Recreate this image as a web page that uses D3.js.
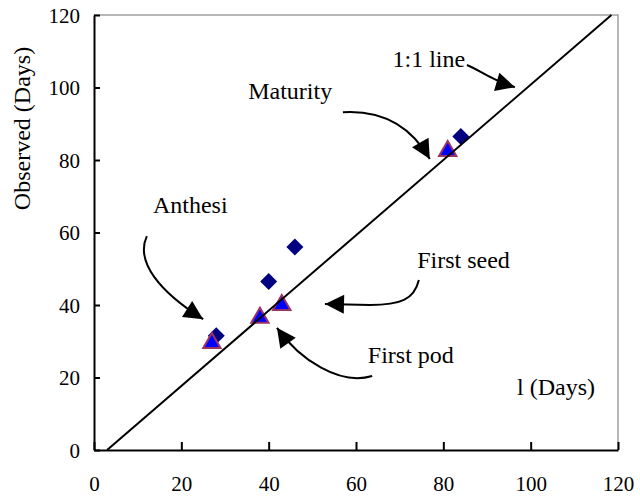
<!DOCTYPE html>
<html>
<head>
<meta charset="utf-8">
<script src="https://cdn.jsdelivr.net/npm/d3@7"></script>
<style>
	body { margin: 0; background: #fff; }
	text { font-family: "Liberation Serif", "Times New Roman", serif; fill: #000; }
</style>
</head>
<body>
<div id="chart"></div>
<script>
const width = 640,
	height = 498;

let margin = { top: 15, left: 94, right: 22, bottom: 48 };

// data
// ---------------------------
const x_ticks = [0, 20, 40, 60, 80, 100, 120];
const y_ticks = [0, 20, 40, 60, 80, 100, 120];

// observed stages (navy diamonds)
const diamond_sim = [28, 40, 46, 84];
const diamond_obs = [31.5, 46.5, 56, 86.5];

// second series (blue triangles)
const triangle_sim = [27, 38, 43, 81];
const triangle_obs = [29.5, 36.5, 40, 82.5];

// 1:1 line end points
const line_sim = [3, 118.5];
const line_obs = [0, 120];

// annotations, in data units
const label_text = ["1:1 line", "Maturity", "Anthesi", "First seed", "First pod"];
const label_x = [85, 35.3, 13.5, 74, 62.7];
const label_y = [105.7, 96.8, 65.4, 50.2, 24];
const label_anchor = ["end", "start", "start", "start", "start"];

const arrows = [
	[[85.4, 106.2], [88.4, 104.8], [90.7, 102.1], [96.4, 100.1]],
	[[57.0, 93.2], [65.5, 93.8], [72.4, 89.7], [76.9, 80.3]],
	[[12.1, 59.0], [9.4, 51.9], [15.1, 43.6], [25.0, 36.1]],
	[[74.4, 46.9], [73.3, 41.4], [70.1, 40.0], [63.2, 40.0], [52.9, 40.3]],
	[[63.7, 20.4], [56.3, 17.7], [47.2, 24.8], [41.9, 33.7]]
];

let c_diamond = '#000080',
	c_triangle = '#0000FF',
	c_triangle_stroke = '#993366',
	c_border = '#A0A0A0';

let svg = d3.select("#chart")
	.append("svg")
	.attr("width", width)
	.attr("height", height);

// scale
// ---------------------------
let x = d3.scaleLinear()
	.domain([0, 120])
	.range([margin.left, width - margin.right]);

let y = d3.scaleLinear()
	.domain([0, 120])
	.range([height - margin.bottom, margin.top]);

// frame (top and right in grey)
svg.append("path")
	.attr("d", "M" + x(0) + "," + y(120) + "H" + x(120) + "V" + y(0))
	.attr("fill", "none")
	.attr("stroke", c_border)
	.attr("stroke-width", 1.5);

// axis
// ---------------------------
let axis_x = svg.append("g")
	.attr("transform", "translate(0," + y(0) + ")")
	.call(d3.axisBottom(x)
		.tickValues(x_ticks)
		.tickSizeInner(-8)
		.tickSizeOuter(0)
		.tickFormat(d3.format("d")));

axis_x.selectAll("text")
	.attr("y", 41)
	.attr("dy", null)
	.style("font-size", "21px");

let axis_y = svg.append("g")
	.attr("transform", "translate(" + x(0) + ",0)")
	.call(d3.axisLeft(y)
		.tickValues(y_ticks)
		.tickSizeInner(-6)
		.tickSizeOuter(0)
		.tickFormat(d3.format("d")));

axis_y.selectAll("text")
	.attr("x", -14)
	.attr("dy", "0.34em")
	.style("font-size", "21px");

svg.selectAll(".domain, .tick line")
	.attr("stroke", "#000")
	.attr("stroke-width", 2);
svg.selectAll(".tick text").attr("font-family", null);

// axis titles
svg.append("text")
	.attr("transform", "translate(30,128.5) rotate(-90)")
	.attr("text-anchor", "middle")
	.style("font-size", "24px")
	.text("Observed (Days)");

svg.append("text")
	.attr("x", 517)
	.attr("y", 395)
	.style("font-size", "24px")
	.text("l (Days)");

// plot
// ---------------------------
let plot = svg.append("g").attr("id", "plot");

plot.selectAll(".diamond")
	.data(diamond_sim)
	.enter()
	.append("path")
	.attr("class", "diamond")
	.attr("d", d3.symbol().type(d3.symbolSquare).size(144))
	.attr("transform", (d, i) => "translate(" + x(d) + "," + y(diamond_obs[i]) + ") rotate(45)")
	.attr("fill", c_diamond);

plot.selectAll(".triangle")
	.data(triangle_sim)
	.enter()
	.append("path")
	.attr("class", "triangle")
	.attr("d", d3.symbol().type(d3.symbolTriangle).size(130))
	.attr("transform", (d, i) => "translate(" + x(d) + "," + y(triangle_obs[i]) + ")")
	.attr("fill", c_triangle)
	.attr("stroke", c_triangle_stroke)
	.attr("stroke-width", 2)
	.attr("stroke-linejoin", "miter");

// 1:1 line
plot.append("path")
	.datum(d3.zip(line_sim, line_obs))
	.attr("d", d3.line().x(d => x(d[0])).y(d => y(d[1])))
	.attr("stroke", "#000")
	.attr("stroke-width", 2)
	.attr("fill", "none");

// annotations
// ---------------------------
svg.append("defs")
	.append("marker")
	.attr("id", "head")
	.attr("markerUnits", "userSpaceOnUse")
	.attr("viewBox", "-20 -10 20 20")
	.attr("refX", 0)
	.attr("refY", 0)
	.attr("markerWidth", 20)
	.attr("markerHeight", 20)
	.attr("orient", "auto")
	.append("path")
	.attr("d", "M0,0L-19,-9.5L-19,9.5Z")
	.attr("fill", "#000");

function arrow_path(p) {
	let s = "M" + x(p[0][0]) + "," + y(p[0][1]) + "C";
	s += p.slice(1, 4).map(d => x(d[0]) + "," + y(d[1])).join(" ");
	if (p.length > 4) s += "L" + x(p[4][0]) + "," + y(p[4][1]);
	return s;
}

let notes = svg.append("g").attr("id", "notes");

notes.selectAll("path")
	.data(arrows)
	.enter()
	.append("path")
	.attr("d", arrow_path)
	.attr("fill", "none")
	.attr("stroke", "#000")
	.attr("stroke-width", 2)
	.attr("marker-end", "url(#head)");

notes.selectAll("text")
	.data(label_text)
	.enter()
	.append("text")
	.attr("x", (d, i) => x(label_x[i]))
	.attr("y", (d, i) => y(label_y[i]))
	.attr("text-anchor", (d, i) => label_anchor[i])
	.style("font-size", "24px")
	.text(d => d);
</script>
</body>
</html>
